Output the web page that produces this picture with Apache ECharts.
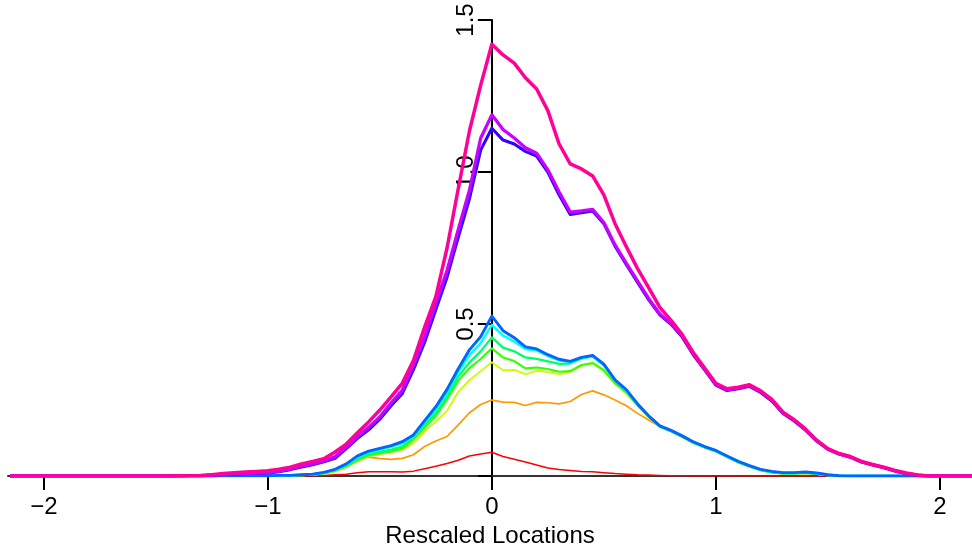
<!DOCTYPE html>
<html>
<head>
<meta charset="utf-8">
<script src="https://cdn.jsdelivr.net/npm/echarts@6/dist/echarts.min.js"></script>
<style>
html,body{margin:0;padding:0;background:#fff;}
#chart{width:972px;height:548px;}
</style>
</head>
<body>
<div id="chart"></div>
<script>
// Rescaled locations (x grid)
const xs = [-2.15,-2.1,-2.05,-2,-1.95,-1.9,-1.85,-1.8,-1.75,-1.7,-1.65,-1.6,-1.55,-1.5,-1.45,
  -1.4,-1.35,-1.3,-1.25,-1.2,-1.15,-1.1,-1.05,-1,-0.95,-0.9,-0.85,-0.8,-0.75,-0.7,-0.65,-0.6,-0.55,-0.5,-0.45,-0.4,-0.35,-0.3,-0.25,-0.2,-0.15,-0.1,-0.05,
  0,0.05,0.1,0.15,0.2,0.25,0.3,0.35,0.4,0.45,0.5,0.55,0.6,0.65,0.7,0.75,0.8,0.85,0.9,0.95,1,1.05,1.1,1.15,1.2,1.25,1.3,1.35,1.4,1.45,1.5,1.55,1.6,1.65,1.7,1.75,1.8,1.85,1.9,1.95,2,2.05,2.1,2.15];

const red = [0,0,0,0,0,0,0,0,0,0,0,0,0,0,0,
  0,0,0,0,0,0,0,0,0,0,0,0,0.001,0.002,0.004,0.006,0.011,0.014,0.014,0.014,0.013,0.016,0.024,0.032,0.041,0.052,0.066,0.072,
  0.078,0.064,0.055,0.046,0.036,0.026,0.021,0.018,0.015,0.014,0.011,0.008,0.006,0.004,0.003,0.002,0.001,0.001,
  0,0,0,0,0,0,0,0,0,0,0,0,0,0,0,0,0,0,0,0,0,0,0,0,0,0];

const orange = [0,0,0,0,0,0,0,0,0,0,0,0,0,0,0,
  0,0,0,0,0,0,0,0,0,0,0.001,0.002,0.004,0.008,0.015,0.031,0.055,0.062,0.057,0.055,0.058,0.070,0.097,0.115,0.130,0.168,0.208,0.235,
  0.250,0.243,0.242,0.232,0.242,0.241,0.237,0.245,0.268,0.280,0.267,0.250,0.231,0.206,0.184,0.163,0.147,0.129,0.109,0.094,0.081,0.063,0.045,0.031,0.019,0.012,0.008,0.008,0.009,0.006,0.002,0.001,
  0,0,0,0,0,0,0,0,0,0,0,0];

const yellowGreen = [0,0,0,0,0,0,0,0,0,0,0,0,0,0,0,
  0,0,0,0,0,0,0,0,0,0,0.001,0.002,0.004,0.008,0.015,0.029,0.049,0.065,0.072,0.078,0.087,0.108,0.148,0.178,0.215,0.277,0.315,0.345,
  0.374,0.348,0.349,0.335,0.346,0.342,0.335,0.343,0.363,0.370,0.346,0.303,0.273,0.231,0.193,0.161,0.146,0.128,0.108,0.093,0.080,0.062,0.044,0.030,0.018,0.011,0.007,0.007,0.009,0.006,0.002,0.001,
  0,0,0,0,0,0,0,0,0,0,0,0];

const green = [0,0,0,0,0,0,0,0,0,0,0,0,0,0,0,
  0,0,0,0,0,0,0,0,0,0.001,0.002,0.003,0.005,0.009,0.017,0.031,0.052,0.068,0.075,0.081,0.090,0.120,0.160,0.197,0.252,0.313,0.355,0.385,
  0.420,0.390,0.378,0.354,0.357,0.352,0.343,0.345,0.365,0.372,0.348,0.305,0.275,0.233,0.195,0.162,0.147,0.129,0.109,0.094,0.081,0.063,0.045,0.031,0.019,0.012,0.008,0.008,0.010,0.007,0.003,0.001,
  0,0,0,0,0,0,0,0,0,0,0,0];

const springGreen = [0,0,0,0,0,0,0,0,0,0,0,0,0,0,0,
  0,0,0,0,0,0,0,0,0,0.001,0.002,0.003,0.005,0.010,0.019,0.034,0.056,0.072,0.079,0.087,0.097,0.126,0.168,0.207,0.262,0.327,0.374,0.410,
  0.456,0.422,0.410,0.390,0.385,0.377,0.369,0.370,0.386,0.393,0.364,0.313,0.281,0.235,0.196,0.163,0.148,0.130,0.110,0.095,0.082,0.064,0.046,0.032,0.020,0.013,0.009,0.009,0.011,0.008,0.003,0.001,
  0,0,0,0,0,0,0,0,0,0,0,0];

const cyan = [0,0,0,0,0,0,0,0,0,0,0,0,0,0,0,
  0,0,0,0,0.001,0.001,0.001,0.001,0.001,0.002,0.002,0.004,0.006,0.011,0.021,0.038,0.062,0.078,0.087,0.096,0.108,0.131,0.176,0.219,0.274,0.342,0.398,0.437,
  0.497,0.462,0.443,0.418,0.413,0.395,0.381,0.375,0.388,0.395,0.366,0.314,0.282,0.236,0.197,0.164,0.149,0.131,0.111,0.096,0.083,0.065,0.047,0.033,0.021,0.014,0.010,0.010,0.012,0.009,0.004,0.001,
  0,0,0,0,0,0,0,0,0,0,0,0];

const blue = [0,0,0,0,0,0,0,0,0,0,0,0,0,0,0,
  0,0,0,0,0.001,0.001,0.001,0.001,0.001,0.002,0.002,0.004,0.006,0.012,0.022,0.040,0.066,0.082,0.091,0.100,0.113,0.135,0.182,0.228,0.285,0.353,0.415,0.458,
  0.526,0.478,0.455,0.425,0.418,0.399,0.384,0.377,0.390,0.397,0.368,0.316,0.284,0.238,0.198,0.165,0.150,0.132,0.112,0.097,0.084,0.066,0.048,0.034,0.022,0.015,0.011,0.011,0.013,0.010,0.004,0.001,
  0,0,0,0,0,0,0,0,0,0,0,0];

const violet = [0,0,0,0,0,0,0,0,0,0,0,0,0,0,0,
  0,0.001,0.001,0.003,0.005,0.006,0.008,0.009,0.010,0.014,0.021,0.030,0.037,0.047,0.058,0.090,0.124,0.152,0.187,0.231,0.271,0.350,0.440,0.548,0.654,0.785,0.912,1.072,
  1.144,1.105,1.092,1.068,1.052,1.000,0.925,0.860,0.866,0.872,0.830,0.756,0.696,0.638,0.580,0.530,0.499,0.457,0.398,0.349,0.299,0.281,0.287,0.295,0.275,0.247,0.206,0.181,0.151,0.115,0.088,0.072,0.062,0.046,0.036,0.027,0.016,0.008,0.002,
  0,0,0,0,0];

const purple = [0,0,0,0,0,0,0,0,0,0,0,0,0,0,0,
  0,0.001,0.001,0.003,0.005,0.007,0.009,0.010,0.011,0.016,0.023,0.033,0.040,0.050,0.063,0.095,0.130,0.160,0.195,0.240,0.282,0.365,0.458,0.570,0.676,0.810,0.940,1.111,
  1.188,1.140,1.112,1.080,1.062,1.007,0.935,0.868,0.872,0.877,0.834,0.760,0.700,0.642,0.584,0.533,0.502,0.460,0.400,0.351,0.301,0.283,0.289,0.297,0.277,0.249,0.208,0.183,0.153,0.117,0.089,0.073,0.063,0.047,0.037,0.028,0.017,0.009,0.003,
  0,0,0,0,0];

const pink = [0,0,0,0,0,0,0,0,0,0,0,0,0,0,0,
  0.001,0.001,0.002,0.004,0.008,0.011,0.013,0.015,0.017,0.022,0.029,0.040,0.048,0.057,0.079,0.105,0.142,0.178,0.217,0.260,0.305,0.380,0.490,0.590,0.750,0.945,1.135,1.285,
  1.420,1.385,1.358,1.310,1.273,1.202,1.093,1.027,1.010,0.987,0.925,0.830,0.755,0.683,0.620,0.555,0.512,0.465,0.405,0.355,0.305,0.287,0.292,0.300,0.280,0.252,0.210,0.185,0.155,0.118,0.090,0.074,0.064,0.048,0.038,0.029,0.018,0.010,0.003,
  0,0,0,0,0];

const seriesValues = [red, orange, yellowGreen, green, springGreen, cyan, blue, violet, purple, pink];
const seriesColors = ['#FF0000','#FF9900','#CCFF00','#33FF00','#00FF66','#00FFFF','#0066FF','#3300FF','#CC00FF','#FF0099'];
const seriesWidths = [1.5,1.7,1.9,2.1,2.3,2.6,2.9,3.1,3.3,3.5];

const xTicks = [-2,-1,0,1,2];
const yTicks = [0,0.5,1,1.5];
const yLabels = [0.5,1,1.5];

const FONT = "'Liberation Sans', Arial, Helvetica, sans-serif";
const GRID_LEFT = 8, GRID_RIGHT = 0, GRID_TOP = 20, GRID_BOTTOM = 72;
const X_MIN = -2.16, X_MAX = 2.1436;
// pixel offset that puts the y axis at x = 0
const Y_AXIS_OFFSET = -((0 - X_MIN) / (X_MAX - X_MIN)) * (972 - GRID_LEFT - GRID_RIGHT);

const series = seriesValues.map((vals, k) => ({
  type: 'line',
  data: xs.map((x, i) => [x, vals[i]]),
  showSymbol: false,
  symbol: 'none',
  smooth: false,
  clip: true,
  silent: true,
  lineStyle: { color: seriesColors[k], width: seriesWidths[k], join: 'round' },
  itemStyle: { color: seriesColors[k] },
  emphasis: { disabled: true }
}));

const chart = echarts.init(document.getElementById('chart'), null, { renderer: 'canvas' });
chart.setOption({
  animation: false,
  backgroundColor: '#ffffff',
  textStyle: { fontFamily: FONT },
  grid: { left: GRID_LEFT, right: GRID_RIGHT, top: GRID_TOP, bottom: GRID_BOTTOM, containLabel: false, outerBoundsMode: 'none' },
  xAxis: {
    type: 'value',
    min: X_MIN,
    max: X_MAX,
    name: 'Rescaled Locations',
    nameLocation: 'middle',
    nameGap: 46,
    nameTextStyle: { fontSize: 24, color: '#000', fontFamily: FONT },
    axisLine: { show: true, onZero: false, lineStyle: { color: '#333', width: 2 } },
    axisTick: { show: true, customValues: xTicks, length: 14, lineStyle: { color: '#000', width: 2 } },
    axisLabel: {
      show: true, customValues: xTicks, fontSize: 24, color: '#000', margin: 19.5, fontFamily: FONT,
      formatter: v => String(v).replace('-', '\u2212')
    },
    splitLine: { show: false }
  },
  yAxis: {
    type: 'value',
    position: 'left',
    offset: Y_AXIS_OFFSET,
    min: 0,
    max: 1.5,
    axisLine: { show: true, onZero: false, lineStyle: { color: '#000', width: 2 } },
    axisTick: { show: true, customValues: yTicks, length: 14, lineStyle: { color: '#000', width: 2 } },
    axisLabel: {
      show: true, customValues: yLabels, rotate: 90, fontSize: 24, color: '#000', margin: 13, fontFamily: FONT,
      formatter: v => Number(v).toFixed(1)
    },
    splitLine: { show: false }
  },
  series: series
});
</script>
</body>
</html>
